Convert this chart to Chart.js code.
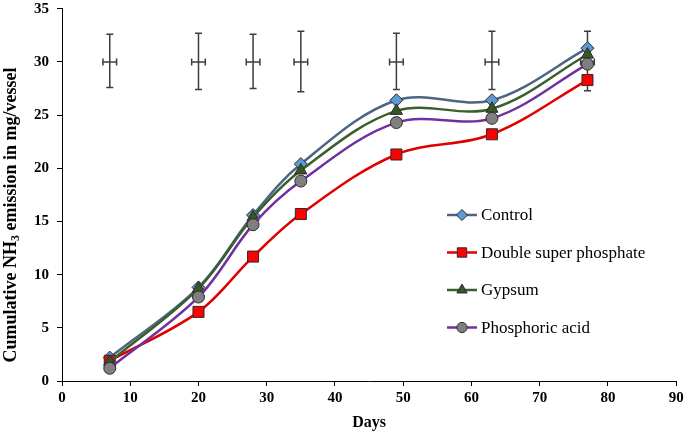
<!DOCTYPE html>
<html>
<head>
<meta charset="utf-8">
<script src="https://cdn.jsdelivr.net/npm/chart.js@4"></script>
<style>
  html, body { margin: 0; padding: 0; background: #fff; }
  #wrap { width: 685px; height: 433px; position: relative; }
</style>
</head>
<body>
<div id="wrap"><canvas id="chart"></canvas></div>
<script>
const days = [7, 20, 28, 35, 49, 63, 77];
const control = [2.2, 8.8, 15.6, 20.4, 26.4, 26.4, 31.3];
const dsp = [1.9, 6.5, 11.7, 15.7, 21.3, 23.2, 28.3];
const gypsum = [1.8, 8.7, 15.4, 19.8, 25.4, 25.6, 30.7];
const phosphoric = [1.2, 7.9, 14.7, 18.8, 24.3, 24.7, 29.8];

// error bars drawn at the top of the plot
const errDays = [7, 20, 28, 35, 49, 63, 77];
const errMid = [30, 30, 30, 30, 30, 30, 30];
const errPlus = [2.6, 2.7, 2.6, 2.9, 2.7, 2.9, 2.9];
const errMinus = [2.4, 2.6, 2.5, 2.8, 2.6, 2.6, 2.7];
const errX = 1;

const FONT = "'Liberation Serif', 'Times New Roman', serif";

function pts(arr) {
  return days.map((d, i) => ({ x: d, y: arr[i] }));
}

function series(label, arr, line, fill, style, radius, order) {
  return {
    label: label,
    data: pts(arr),
    borderColor: line,
    borderWidth: 2.5,
    pointStyle: style,
    pointRadius: radius,
    pointHoverRadius: radius,
    pointBackgroundColor: fill,
    pointBorderColor: '#2b2b2b',
    pointBorderWidth: 1,
    tension: 0.35,
    fill: false,
    order: order
  };
}

const datasets = [
  series('Control', control, '#4d6580', '#5b9bd5', 'rectRot', 6.5, 4),
  series('Double super phosphate', dsp, '#e00000', '#ff0000', 'rect', 7.8, 3),
  series('Gypsum', gypsum, '#3b5f2c', '#375623', 'triangle', 7, 2),
  series('Phosphoric acid', phosphoric, '#7030a0', '#7f7f7f', 'circle', 6, 1)
];

const errorBars = {
  id: 'errorBars',
  beforeDatasetsDraw(chart) {
    const { ctx, scales: { x, y } } = chart;
    ctx.save();
    ctx.strokeStyle = '#3c3c3c';
    ctx.lineWidth = 1.5;
    errDays.forEach((d, i) => {
      const px = x.getPixelForValue(d);
      const py = y.getPixelForValue(errMid[i]);
      const top = y.getPixelForValue(errMid[i] + errPlus[i]);
      const bot = y.getPixelForValue(errMid[i] - errMinus[i]);
      const l = x.getPixelForValue(d - errX);
      const r = x.getPixelForValue(d + errX);
      ctx.beginPath();
      ctx.moveTo(px, top); ctx.lineTo(px, bot);
      ctx.moveTo(px - 3.5, top); ctx.lineTo(px + 3.5, top);
      ctx.moveTo(px - 3.5, bot); ctx.lineTo(px + 3.5, bot);
      ctx.moveTo(l, py); ctx.lineTo(r, py);
      ctx.moveTo(l, py - 3.5); ctx.lineTo(l, py + 3.5);
      ctx.moveTo(r, py - 3.5); ctx.lineTo(r, py + 3.5);
      ctx.stroke();
    });
    ctx.restore();
  }
};

const sideText = {
  id: 'sideText',
  afterDraw(chart) {
    const ctx = chart.ctx;
    ctx.save();
    // y axis title with subscript
    ctx.translate(11, 215);
    ctx.rotate(-Math.PI / 2);
    ctx.fillStyle = '#000';
    ctx.textBaseline = 'middle';
    const big = 'bold 18px ' + FONT;
    const small = 'bold 12px ' + FONT;
    const a = 'Cumulative NH', b = '3', c = ' emission in mg/vessel';
    ctx.font = big;
    const wa = ctx.measureText(a).width, wc = ctx.measureText(c).width;
    ctx.font = small;
    const wb = ctx.measureText(b).width;
    let sx = -(wa + wb + wc) / 2;
    ctx.font = big;
    ctx.fillText(a, sx, 0);
    ctx.font = small;
    ctx.fillText(b, sx + wa, 5);
    ctx.font = big;
    ctx.fillText(c, sx + wa + wb, 0);
    ctx.restore();

    // legend
    ctx.save();
    ctx.font = '17px ' + FONT;
    ctx.textBaseline = 'middle';
    chart.data.datasets.forEach((ds, i) => {
      const yy = 215 + i * 37.5;
      ctx.strokeStyle = ds.borderColor;
      ctx.lineWidth = 2.5;
      ctx.beginPath();
      ctx.moveTo(447, yy); ctx.lineTo(477, yy);
      ctx.stroke();
      ctx.fillStyle = ds.pointBackgroundColor;
      ctx.strokeStyle = ds.pointBorderColor;
      ctx.lineWidth = 1;
      Chart.helpers.drawPoint(ctx, { pointStyle: ds.pointStyle, radius: ds.pointRadius * 0.85, borderWidth: 1, rotation: 0 }, 462, yy);
      ctx.fillStyle = '#000';
      ctx.fillText(ds.label, 481, yy + 1);
    });
    ctx.restore();
  }
};

new Chart(document.getElementById('chart'), {
  type: 'line',
  data: { datasets: datasets },
  plugins: [errorBars, sideText],
  options: {
    responsive: true,
    maintainAspectRatio: false,
    animation: false,
    layout: { padding: { top: 0, right: 7, left: 0, bottom: 0 } },
    plugins: {
      legend: { display: false },
      tooltip: { enabled: false }
    },
    scales: {
      x: {
        type: 'linear',
        min: 0, max: 90,
        afterFit(s) { s.height = 52; s.paddingRight = 0; s.paddingLeft = 0; },
        grid: { drawOnChartArea: false, tickLength: 5, color: '#000', lineWidth: 1 },
        border: { color: '#000', width: 1 },
        ticks: { stepSize: 10, padding: 3, color: '#000', maxRotation: 0, font: { family: FONT, size: 15, weight: 'bold' } },
        title: { display: true, text: 'Days', color: '#000', padding: { top: 2, bottom: 1 }, font: { family: FONT, size: 16, weight: 'bold' } }
      },
      y: {
        min: 0, max: 35,
        afterFit(s) { s.width = 62; s.paddingTop = 0; },
        grid: { drawOnChartArea: false, tickLength: 5, color: '#000', lineWidth: 1 },
        border: { color: '#000', width: 1 },
        ticks: { stepSize: 5, padding: 8, color: '#000', font: { family: FONT, size: 15, weight: 'bold' } }
      }
    }
  }
});
</script>
</body>
</html>
